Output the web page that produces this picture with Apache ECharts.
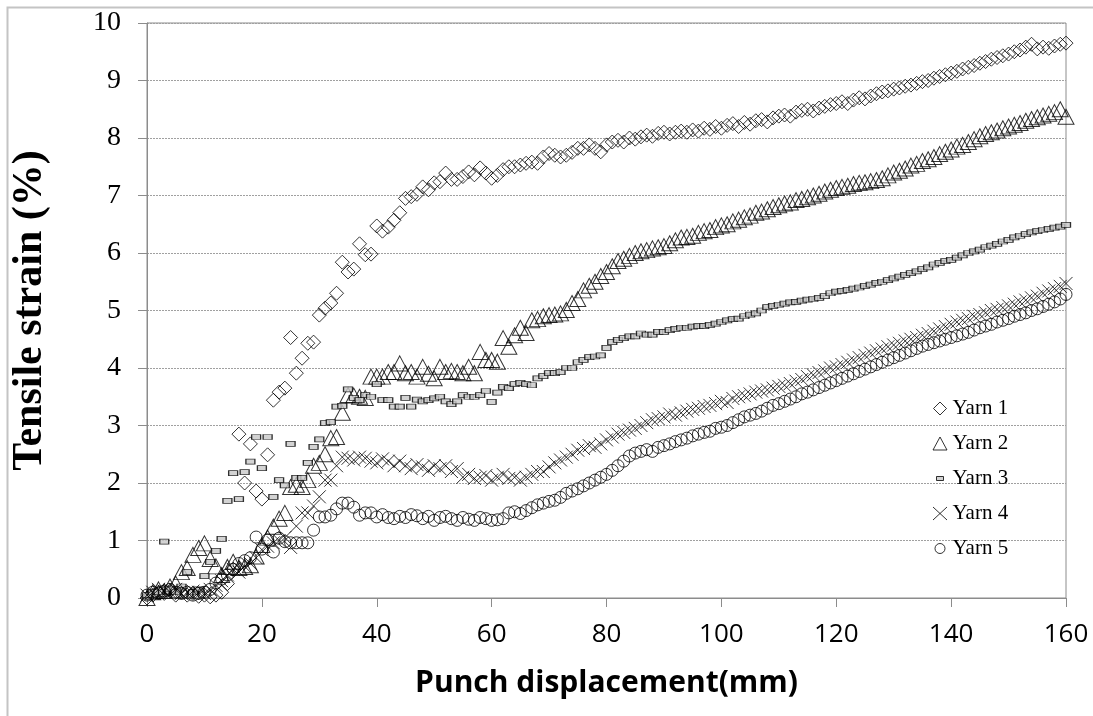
<!DOCTYPE html>
<html>
<head>
<meta charset="utf-8">
<script src="https://cdn.jsdelivr.net/npm/echarts@6/dist/echarts.min.js"></script>
<style>
html,body{margin:0;padding:0;background:#fff;}
#chart{width:1093px;height:716px;}
</style>
</head>
<body>
<div id="chart"></div>
<script>
const seriesNames = ['Yarn 1','Yarn 2','Yarn 3','Yarn 4','Yarn 5'];
const xTicks = [0,20,40,60,80,100,120,140,160];
const yTicks = [0,1,2,3,4,5,6,7,8,9,10];
const displacement = [
0,1,2,3,4,5,6,7,8,9,10,11,12,13,14,15,16,17,18,19,20,
21,22,23,24,25,26,27,28,29,30,31,32,33,34,35,36,37,38,39,40,
41,42,43,44,45,46,47,48,49,50,51,52,53,54,55,56,57,58,59,60,
61,62,63,64,65,66,67,68,69,70,71,72,73,74,75,76,77,78,79,80,
81,82,83,84,85,86,87,88,89,90,91,92,93,94,95,96,97,98,99,100,
101,102,103,104,105,106,107,108,109,110,111,112,113,114,115,116,117,118,119,120,
121,122,123,124,125,126,127,128,129,130,131,132,133,134,135,136,137,138,139,140,
141,142,143,144,145,146,147,148,149,150,151,152,153,154,155,156,157,158,159,160];
const yarn1 = [
0.0,0.05,0.1,0.08,0.12,0.05,0.1,0.05,0.08,0.03,0.05,0.02,0.05,0.1,0.25,0.5,2.85,2.0,2.68,1.86,1.72,
2.49,3.44,3.58,3.65,4.53,3.91,4.17,4.43,4.45,4.92,5.04,5.13,5.3,5.84,5.67,5.72,6.16,5.97,5.98,6.47,
6.38,6.45,6.57,6.7,6.95,6.98,7.02,7.15,7.1,7.22,7.24,7.39,7.28,7.28,7.33,7.41,7.36,7.48,7.39,7.3,
7.35,7.45,7.5,7.5,7.53,7.56,7.58,7.56,7.67,7.73,7.7,7.67,7.7,7.75,7.82,7.82,7.88,7.82,7.76,7.88,
7.93,7.96,7.93,8.0,7.98,8.02,8.05,8.03,8.08,8.1,8.07,8.1,8.12,8.1,8.14,8.12,8.17,8.15,8.2,8.17,
8.22,8.25,8.2,8.27,8.24,8.3,8.32,8.28,8.35,8.38,8.4,8.38,8.45,8.48,8.5,8.47,8.52,8.55,8.58,8.6,
8.63,8.6,8.66,8.7,8.68,8.73,8.77,8.8,8.82,8.85,8.87,8.9,8.92,8.95,8.98,9.0,9.04,9.07,9.1,9.13,
9.16,9.2,9.23,9.26,9.3,9.33,9.37,9.4,9.43,9.46,9.5,9.53,9.58,9.63,9.55,9.58,9.56,9.6,9.63,9.65];
const yarn2 = [
0.0,0.1,0.15,0.12,0.2,0.25,0.45,0.52,0.75,0.87,0.95,0.68,0.55,0.4,0.54,0.63,0.52,0.54,0.57,0.72,0.92,
1.05,1.24,1.38,1.48,1.93,1.97,1.93,2.05,2.3,2.35,2.5,2.78,2.8,3.22,3.53,3.52,3.5,3.48,3.85,3.85,
3.85,3.93,3.93,4.08,3.91,3.93,3.85,4.02,3.9,3.82,4.02,3.93,3.95,3.93,3.91,4.02,3.91,4.28,4.14,4.14,
4.11,4.52,4.37,4.57,4.7,4.61,4.83,4.85,4.9,4.92,4.93,4.95,5.01,5.13,5.2,5.35,5.43,5.5,5.6,5.67,
5.77,5.86,5.9,5.95,6.0,6.03,6.05,6.08,6.1,6.12,6.17,6.22,6.27,6.28,6.3,6.35,6.38,6.4,6.45,6.48,
6.5,6.55,6.58,6.62,6.65,6.7,6.72,6.76,6.8,6.83,6.86,6.88,6.92,6.94,6.97,7.0,7.03,7.07,7.1,7.13,
7.15,7.17,7.2,7.22,7.23,7.25,7.27,7.3,7.35,7.4,7.43,7.47,7.52,7.55,7.6,7.63,7.67,7.72,7.76,7.8,
7.85,7.88,7.93,7.98,8.03,8.07,8.1,8.13,8.17,8.2,8.23,8.26,8.3,8.33,8.36,8.39,8.42,8.45,8.5,8.37];
const yarn3 = [
0.05,0.1,0.1,0.98,0.15,0.1,0.2,0.45,0.1,0.15,0.38,0.63,0.82,1.03,1.69,2.17,1.72,2.19,2.37,2.8,2.26,
2.8,1.76,2.05,1.96,2.68,2.09,2.09,2.35,2.63,2.76,3.04,3.06,3.33,3.34,3.63,3.48,3.44,3.53,3.5,3.72,
3.44,3.44,3.33,3.33,3.48,3.33,3.45,3.42,3.44,3.47,3.5,3.42,3.37,3.42,3.53,3.5,3.5,3.53,3.6,3.41,
3.57,3.67,3.65,3.72,3.74,3.72,3.7,3.82,3.86,3.91,3.91,3.93,4.0,4.0,4.1,4.14,4.19,4.2,4.22,4.35,
4.45,4.49,4.52,4.55,4.55,4.6,4.58,4.58,4.63,4.63,4.66,4.68,4.7,4.7,4.72,4.73,4.73,4.75,4.77,4.8,
4.83,4.85,4.86,4.9,4.93,4.95,5.0,5.06,5.08,5.1,5.12,5.14,5.15,5.17,5.19,5.2,5.22,5.25,5.3,5.33,
5.34,5.36,5.38,5.4,5.43,5.45,5.48,5.5,5.53,5.56,5.59,5.62,5.65,5.68,5.72,5.75,5.8,5.83,5.86,5.88,
5.92,5.96,6.0,6.03,6.06,6.1,6.13,6.16,6.2,6.23,6.27,6.3,6.33,6.36,6.38,6.4,6.42,6.44,6.46,6.49];
const yarn4 = [
0.05,0.1,0.15,0.12,0.1,0.15,0.08,0.1,0.12,0.1,0.08,0.15,0.22,0.3,0.4,0.5,0.45,0.55,0.6,0.7,0.84,
0.9,0.96,1.0,1.05,0.88,1.25,1.48,1.48,1.6,1.76,2.05,2.05,2.3,2.45,2.43,2.4,2.45,2.43,2.38,2.35,
2.42,2.38,2.3,2.38,2.3,2.25,2.32,2.28,2.22,2.3,2.25,2.3,2.2,2.25,2.1,2.15,2.08,2.1,2.13,2.05,
2.1,2.15,2.08,2.1,2.05,2.1,2.15,2.2,2.2,2.28,2.35,2.4,2.45,2.5,2.57,2.6,2.65,2.62,2.68,2.75,
2.8,2.85,2.88,2.92,2.95,3.0,3.05,3.1,3.12,3.15,3.2,3.18,3.22,3.25,3.28,3.3,3.33,3.35,3.38,3.42,
3.4,3.47,3.5,3.52,3.55,3.58,3.6,3.62,3.65,3.68,3.7,3.73,3.77,3.8,3.85,3.88,3.92,3.95,4.0,4.02,
4.06,4.1,4.14,4.18,4.22,4.26,4.3,4.33,4.37,4.4,4.43,4.47,4.5,4.53,4.57,4.6,4.64,4.68,4.72,4.76,
4.8,4.83,4.86,4.9,4.93,4.96,5.0,5.02,5.05,5.08,5.11,5.15,5.18,5.22,5.25,5.3,5.34,5.38,5.42,5.47];
const yarn5 = [
0.05,0.1,0.08,0.12,0.15,0.1,0.08,0.1,0.05,0.08,0.1,0.15,0.26,0.33,0.4,0.5,0.6,0.65,0.7,1.06,0.85,
1.01,0.8,1.04,0.98,0.96,0.96,0.96,0.96,1.18,1.41,1.41,1.44,1.55,1.65,1.65,1.58,1.44,1.48,1.48,1.41,
1.45,1.4,1.38,1.42,1.4,1.45,1.43,1.38,1.42,1.35,1.4,1.42,1.38,1.35,1.4,1.37,1.35,1.4,1.38,1.35,
1.36,1.38,1.48,1.5,1.47,1.52,1.57,1.62,1.65,1.68,1.7,1.75,1.82,1.86,1.9,1.95,2.0,2.05,2.1,2.15,
2.22,2.3,2.38,2.47,2.52,2.55,2.58,2.55,2.62,2.65,2.68,2.72,2.75,2.78,2.82,2.85,2.88,2.9,2.95,2.97,
3.0,3.05,3.1,3.15,3.18,3.21,3.25,3.3,3.35,3.38,3.42,3.46,3.5,3.55,3.58,3.62,3.66,3.7,3.74,3.78,
3.82,3.86,3.9,3.94,3.98,4.02,4.06,4.1,4.14,4.18,4.22,4.26,4.3,4.34,4.38,4.41,4.44,4.47,4.5,4.53,
4.56,4.59,4.62,4.66,4.7,4.73,4.76,4.8,4.83,4.86,4.9,4.93,4.96,5.0,5.03,5.07,5.11,5.15,5.2,5.28];

const yarnValues = [yarn1, yarn2, yarn3, yarn4, yarn5];
const crossPath = 'path://M0,0L10,10M10,0L0,10';
const symbols = ['diamond','triangle','rect',crossPath,'circle'];
const symbolSizes = [14,[16,15],[9,5],13,12];
const fills = ['none','none','#c8c8c8','none','none'];
const legendIcons = [
  'path://M0,0M15,14M7.5,0.5L14,7L7.5,13.5L1,7Z',
  'path://M0,0M15,14M7.5,0.5L14.5,13.5L0.5,13.5Z',
  'path://M0,0M15,14M4,5L11,5L11,9L4,9Z',
  'path://M0,0M15,14M0.5,0.5L14.5,13.5M14.5,0.5L0.5,13.5',
  'path://M0,0M15,14M12.5,7A5,5,0,1,1,2.5,7A5,5,0,1,1,12.5,7Z'
];

const serif = 'Liberation Serif';
const chart = echarts.init(document.getElementById('chart'), null, {renderer:'canvas'});
const series = seriesNames.map((name, i) => ({
  name: name,
  type: 'scatter',
  symbol: symbols[i],
  symbolSize: symbolSizes[i],
  itemStyle: {color: fills[i], borderColor: '#000', borderWidth: 1},
  emphasis: {disabled: true},
  data: displacement.map((x, k) => [x, yarnValues[i][k]])
}));

chart.setOption({
  animation: false,
  backgroundColor: '#fff',
  graphic: [{
    type: 'rect',
    shape: {x: 7.5, y: 7.5, width: 1200, height: 800},
    style: {fill: 'none', stroke: '#c4c4c4', lineWidth: 2},
    silent: true, z: -10
  }],
  grid: {left: 147, right: 27, top: 23, bottom: 118, show: true, borderColor: '#8c8c8c', borderWidth: 1, backgroundColor: 'transparent'},
  legend: {
    orient: 'vertical',
    left: 925, top: 393,
    itemWidth: 15, itemHeight: 14, itemGap: 14,
    textStyle: {fontFamily: serif, fontSize: 21, color: '#000', lineHeight: 21},
    data: seriesNames.map((n, i) => ({
      name: n,
      icon: legendIcons[i],
      itemStyle: {color: fills[i], borderColor: '#000', borderWidth: 1}
    }))
  },
  xAxis: {
    type: 'value', min: xTicks[0], max: xTicks[xTicks.length-1], interval: 20,
    name: 'Punch displacement(mm)', nameLocation: 'middle', nameGap: 70,
    nameTextStyle: {fontFamily: 'Open Sans', fontWeight: 'bold', fontSize: 30, color: '#000'},
    axisLine: {lineStyle: {color: '#8c8c8c', width: 1}},
    axisTick: {show: true, inside: false, length: 9, lineStyle: {color: '#8c8c8c'}},
    axisLabel: {fontFamily: 'Open Sans', fontSize: 26, color: '#000', margin: 24},
    splitLine: {show: false}
  },
  yAxis: {
    type: 'value', min: yTicks[0], max: yTicks[yTicks.length-1], interval: 1,
    name: 'Tensile strain (%)', nameLocation: 'middle', nameGap: 96,
    nameTextStyle: {fontFamily: serif, fontWeight: 'bold', fontSize: 42, color: '#000'},
    axisLine: {lineStyle: {color: '#8c8c8c', width: 1}},
    axisTick: {show: true, inside: false, length: 9, lineStyle: {color: '#8c8c8c'}},
    axisLabel: {fontFamily: serif, fontSize: 28, color: '#000', margin: 26},
    splitLine: {show: true, lineStyle: {color: '#a0a0a0', type: [2,1], width: 1}}
  },
  series: series
});
</script>
</body>
</html>
